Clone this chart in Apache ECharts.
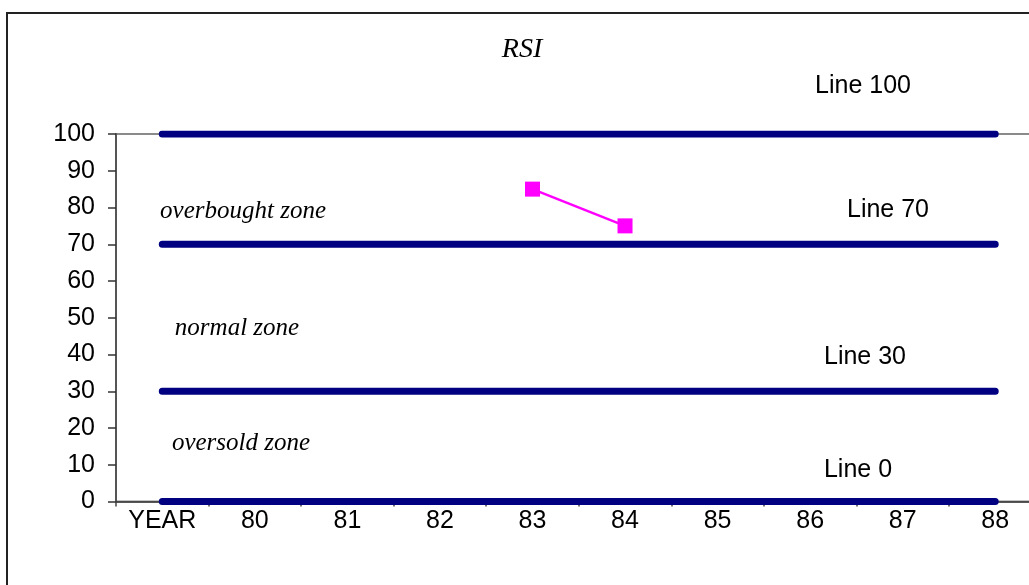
<!DOCTYPE html>
<html>
<head>
<meta charset="utf-8">
<title>RSI</title>
<script src="https://cdn.jsdelivr.net/npm/echarts@6/dist/echarts.min.js"></script>
<style>
  html, body { margin: 0; padding: 0; background: #fff; overflow: hidden; width: 1029px; height: 585px; }
  /* the drawing surface runs a little past the right edge of the window */
  #chart { width: 1044px; height: 585px; }
</style>
</head>
<body>
<div id="chart"></div>
<script>
// Category axis: a leading "YEAR" slot followed by the years 80..88
const categories = ['YEAR', '80', '81', '82', '83', '84', '85', '86', '87', '88'];

// Reference levels of the RSI scale
const line100 = [100, 100, 100, 100, 100, 100, 100, 100, 100, 100];
const line70  = [70, 70, 70, 70, 70, 70, 70, 70, 70, 70];
const line30  = [30, 30, 30, 30, 30, 30, 30, 30, 30, 30];
const line0   = [0, 0, 0, 0, 0, 0, 0, 0, 0, 0];

// RSI readings (only years 83 and 84 plotted)
const rsiValues = [null, null, null, null, 85, 75, null, null, null, null];

// Value axis ticks
const yTicks = { min: 0, max: 100, interval: 10 };

const SANS = '"Liberation Sans", Arial, sans-serif';
const SERIF = '"Liberation Serif", "Times New Roman", serif';

const levelStyle = { color: '#000080', width: 7, cap: 'round' };

function levelSeries(name, data) {
  return {
    name: name,
    type: 'line',
    data: data,
    symbol: 'none',
    lineStyle: levelStyle,
    itemStyle: { color: '#000080' },
    silent: true,
    z: 2
  };
}

const chart = echarts.init(document.getElementById('chart'), null, { renderer: 'canvas' });

chart.setOption({
  animation: false,
  backgroundColor: '#ffffff',
  grid: {
    left: 116,
    top: 134,
    bottom: 83.5,
    right: 2.5,
    containLabel: false,
    show: true,
    borderColor: '#8a8a8a',
    borderWidth: 2,
    backgroundColor: 'transparent'
  },
  xAxis: {
    type: 'category',
    data: categories,
    boundaryGap: true,
    axisLine: { lineStyle: { color: '#333333', width: 1.5 } },
    axisTick: { show: true, length: 5, inside: false, lineStyle: { color: '#444444', width: 1.5 } },
    axisLabel: { color: '#000', fontFamily: SANS, fontSize: 25, margin: 7 },
    splitLine: { show: false }
  },
  yAxis: {
    type: 'value',
    min: yTicks.min,
    max: yTicks.max,
    interval: yTicks.interval,
    axisLine: { show: true, lineStyle: { color: '#555555', width: 2 } },
    axisTick: { show: true, length: 8, inside: false, lineStyle: { color: '#333333', width: 1.5 } },
    axisLabel: { color: '#000', fontFamily: SANS, fontSize: 25, margin: 21 },
    splitLine: { show: false }
  },
  series: [
    levelSeries('Line 100', line100),
    levelSeries('Line 70', line70),
    levelSeries('Line 30', line30),
    levelSeries('Line 0', line0),
    {
      name: 'RSI',
      type: 'line',
      data: rsiValues,
      connectNulls: false,
      symbol: 'rect',
      symbolSize: 15,
      lineStyle: { color: '#ff00ff', width: 2.5 },
      itemStyle: { color: '#ff00ff' },
      z: 5
    }
  ],
  graphic: [
    // outer chart frame
    {
      type: 'rect',
      shape: { x: 7, y: 13, width: 1200, height: 800 },
      style: { fill: 'none', stroke: '#222222', lineWidth: 2 },
      silent: true,
      z: 0
    },
    {
      type: 'text', x: 522, y: 50,
      style: { text: 'RSI', font: 'italic 28px ' + SERIF, fill: '#000', align: 'center', verticalAlign: 'middle' }
    },
    {
      type: 'text', x: 863, y: 86,
      style: { text: 'Line 100', font: '25px ' + SANS, fill: '#000', align: 'center', verticalAlign: 'middle' }
    },
    {
      type: 'text', x: 888, y: 210,
      style: { text: 'Line 70', font: '25px ' + SANS, fill: '#000', align: 'center', verticalAlign: 'middle' }
    },
    {
      type: 'text', x: 865, y: 357,
      style: { text: 'Line 30', font: '25px ' + SANS, fill: '#000', align: 'center', verticalAlign: 'middle' }
    },
    {
      type: 'text', x: 858, y: 470,
      style: { text: 'Line 0', font: '25px ' + SANS, fill: '#000', align: 'center', verticalAlign: 'middle' }
    },
    {
      type: 'text', x: 243, y: 211,
      style: { text: 'overbought zone', font: 'italic 25px ' + SERIF, fill: '#000', align: 'center', verticalAlign: 'middle' }
    },
    {
      type: 'text', x: 237, y: 328,
      style: { text: 'normal zone', font: 'italic 25px ' + SERIF, fill: '#000', align: 'center', verticalAlign: 'middle' }
    },
    {
      type: 'text', x: 241, y: 443,
      style: { text: 'oversold zone', font: 'italic 25px ' + SERIF, fill: '#000', align: 'center', verticalAlign: 'middle' }
    }
  ]
});
</script>
</body>
</html>
